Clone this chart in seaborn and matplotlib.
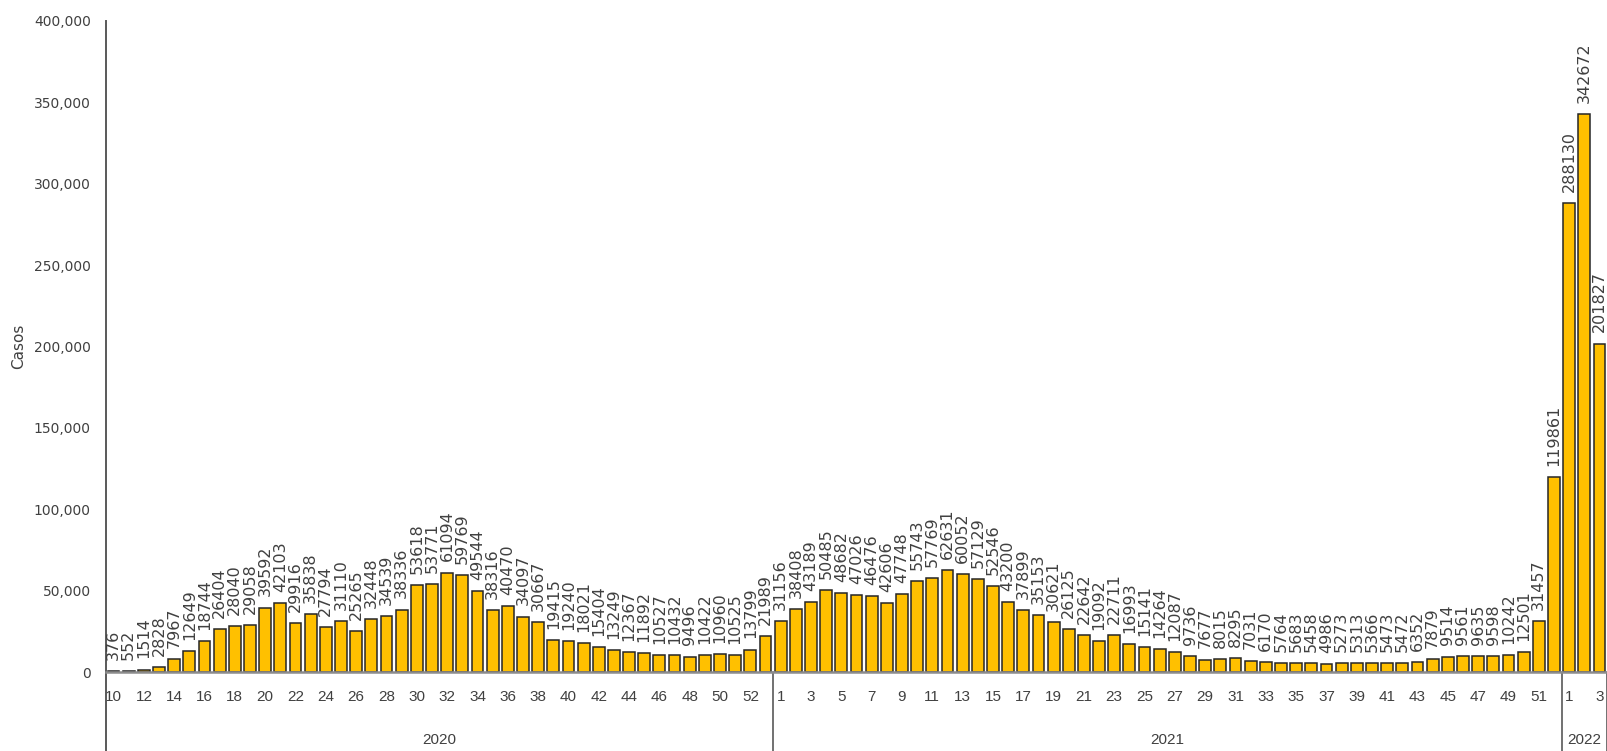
import numpy as np
import pandas as pd
import matplotlib
matplotlib.use('Agg')
import matplotlib.pyplot as plt
import matplotlib.transforms as mtransforms
from matplotlib.ticker import FuncFormatter
import seaborn as sns

# semanas epidemiológicas y casos
weeks_2020 = list(range(10, 54))
cases_2020 = [376, 552, 1514, 2828, 7967, 12649, 18744, 26404, 28040, 29058,
              39592, 42103, 29916, 35838, 27794, 31110, 25265, 32448, 34539, 38336,
              53618, 53771, 61094, 59769, 49544, 38316, 40470, 34097, 30667, 19415,
              19240, 18021, 15404, 13249, 12367, 11892, 10527, 10432, 9496, 10422,
              10960, 10525, 13799, 21989]
weeks_2021 = list(range(1, 53))
cases_2021 = [31156, 38408, 43189, 50485, 48682, 47026, 46476, 42606, 47748, 55743,
              57769, 62631, 60052, 57129, 52546, 43200, 37899, 35153, 30621, 26125,
              22642, 19092, 22711, 16993, 15141, 14264, 12087, 9736, 7677, 8015,
              8295, 7031, 6170, 5764, 5683, 5458, 4986, 5273, 5313, 5366,
              5473, 5472, 6352, 7879, 9514, 9561, 9635, 9598, 10242, 12501,
              31457, 119861]
weeks_2022 = [1, 2, 3]
cases_2022 = [288130, 342672, 201827]
years = ['2020', '2021', '2022']

rows = []
for yr, wk, cs in zip(years, [weeks_2020, weeks_2021, weeks_2022],
                      [cases_2020, cases_2021, cases_2022]):
    for i, (w, c) in enumerate(zip(wk, cs)):
        rows.append({'key': f'{yr}-{w}', 'year': yr, 'week': w, 'casos': c,
                     'show': i % 2 == 0})
df = pd.DataFrame(rows)

sns.set_style('white')
plt.rcParams['font.family'] = ['DejaVu Sans']

fig = plt.figure(figsize=(16.07, 7.51), dpi=100)
ax = fig.add_axes([106 / 1607, 79 / 751, 1 - 106 / 1607, 651 / 751])

sns.barplot(data=df, x='key', y='casos', order=df['key'], color='#FFC000',
            saturation=1, edgecolor='#262626', linewidth=1.1, width=0.78, ax=ax)

ax.bar_label(ax.containers[0], labels=[str(v) for v in df['casos']],
             rotation=90, padding=8, fontsize=11.5, color='#404040')

ax.set_ylim(0, 400000)
ax.set_xlim(-0.5, len(df) - 0.5)
ax.yaxis.set_major_formatter(FuncFormatter(lambda v, p: f'{v:,.0f}'))
ax.set_yticks(np.arange(0, 400001, 50000))
ax.tick_params(axis='y', length=0, pad=11, labelsize=10, labelcolor='#404040')

pos = np.where(df['show'])[0]
ax.set_xticks(pos)
ax.set_xticklabels(df.loc[df['show'], 'week'].astype(str))
ax.tick_params(axis='x', length=0, pad=13, labelsize=11, labelcolor='#404040')
for t in ax.get_xticklabels():
    t.set_fontfamily('Liberation Sans')

ax.set_xlabel('')
ax.set_ylabel('Casos', fontsize=11, color='#404040')
ax.yaxis.set_label_coords(-80 / 1501, 0.5)

sns.despine(ax=ax, top=True, right=True)
ax.spines['left'].set_color('#595959')
ax.spines['left'].set_linewidth(1.4)
ax.spines['bottom'].set_color('#8c8c8c')
ax.spines['bottom'].set_linewidth(1.8)

# eje de categorías por año
trans = mtransforms.blended_transform_factory(ax.transData, ax.transAxes)
low = -79 / 651
start = -0.5
ax.plot([start, start], [0, low], transform=trans, color='#595959', lw=1.4, clip_on=False)
for yr in years:
    n = (df['year'] == yr).sum()
    end = start + n
    ax.plot([end, end], [0, low], transform=trans, color='#595959', lw=1.2, clip_on=False)
    ax.text((start + end) / 2, -0.104, yr, transform=trans, ha='center', va='center',
            fontsize=11, color='#404040', family='Liberation Sans', clip_on=False)
    start = end

fig.savefig('out.png', dpi=100)
